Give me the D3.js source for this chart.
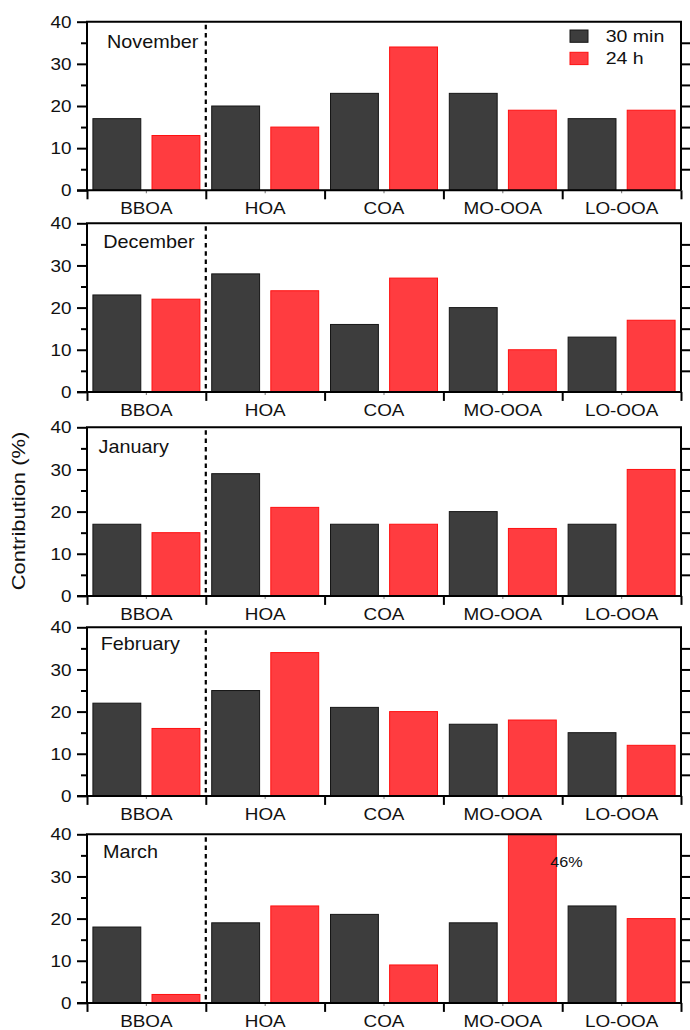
<!DOCTYPE html>
<html>
<head>
<meta charset="utf-8">
<script src="https://cdn.jsdelivr.net/npm/d3@7"></script>
<style>
  html, body { margin: 0; padding: 0; background: #fff; }
  svg { display: block; font-family: "Liberation Sans", Arial, sans-serif; }
</style>
</head>
<body>
<svg id="chart" width="690" height="1030"></svg>
<script>
// ---------------- data ----------------
const months = ["November", "December", "January", "February", "March"];
const categories = ["BBOA", "HOA", "COA", "MO-OOA", "LO-OOA"];
const seriesNames = ["30 min", "24 h"];
// contributions (%) per month, in category order
const min30 = [
  [17, 20, 23, 23, 17],
  [23, 28, 16, 20, 13],
  [17, 29, 17, 20, 17],
  [22, 25, 21, 17, 15],
  [18, 19, 21, 19, 23]
];
const h24 = [
  [13, 15, 34, 19, 19],
  [22, 24, 27, 10, 17],
  [15, 21, 17, 16, 30],
  [16, 34, 20, 18, 12],
  [2, 23, 9, 46, 20]
];
const yTicks = [0, 10, 20, 30, 40];
const yMinorTicks = [5, 15, 25, 35];
const yTitle = "Contribution (%)";
const clippedNote = "46%";   // March, MO-OOA, 24 h (bar exceeds the axis)

// ---------------- layout ----------------
const W = 690, H = 1030;
const left = 87, right = 681;
const panelTops = [21.7, 223.3, 427.3, 627.3, 834.3];
const panelH = 168.6;
const monthLabelPos = [[107, 26.6], [103.3, 25], [98.5, 25.5], [100.7, 22.7], [103, 23.3]];
const colors = { "30 min": "#3d3d3d", "24 h": "#ff3c40" };
const strokes = { "30 min": "#161616", "24 h": "#ff1010" };
const SX = 1.18; // horizontal glyph stretch to match the reference font

const svg = d3.select("#chart");
const data = [min30, h24];

const x0 = d3.scaleBand().domain(categories).range([left, right]).paddingInner(0).paddingOuter(0);
const x1 = d3.scaleBand().domain(seriesNames).range([0, x0.bandwidth()]).paddingInner(0.19).paddingOuter(0.1);
const xEdges = d3.scaleLinear().domain([0, categories.length]).range([left, right]);

function stext(g, x, y, str, size, sx, anchor) {
  return g.append("text")
    .attr("transform", `translate(${x},${y}) scale(${sx},1)`)
    .attr("text-anchor", anchor || "start")
    .style("font-size", size + "px")
    .attr("fill", "#111")
    .text(str);
}

months.forEach((m, mi) => {
  const top = panelTops[mi];
  const bottom = top + panelH;
  const y = d3.scaleLinear().domain([0, 40]).range([bottom, top]).clamp(true);
  const g = svg.append("g");

  // bars
  seriesNames.forEach((s, si) => {
    g.selectAll(null)
      .data(categories.map((c, ci) => ({ c, v: data[si][mi][ci] })))
      .enter().append("rect")
      .attr("x", d => x0(d.c) + x1(s))
      .attr("y", d => y(d.v))
      .attr("width", x1.bandwidth())
      .attr("height", d => y(0) - y(d.v))
      .attr("fill", colors[s])
      .attr("stroke", strokes[s])
      .attr("stroke-width", 1);
  });

  // dashed separator after BBOA
  g.append("line")
    .attr("x1", xEdges(1)).attr("x2", xEdges(1))
    .attr("y1", top + 3).attr("y2", bottom)
    .attr("stroke", "#000").attr("stroke-width", 2.2)
    .attr("stroke-dasharray", "4.5,3.8");

  // left axis major
  const la = g.append("g").attr("transform", `translate(${left},0)`)
    .call(d3.axisLeft(y).tickValues(yTicks).tickSize(10).tickSizeOuter(0).tickFormat(d3.format("d")));
  la.select(".domain").remove();
  la.selectAll("line").attr("stroke", "#000").attr("stroke-width", 2);
  la.selectAll("text")
    .attr("x", null).attr("dy", null)
    .attr("transform", "translate(-15.5,5.6) scale(" + SX + ",1)")
    .attr("text-anchor", "end")
    .style("font-size", "16px").attr("fill", "#111").style("font-family", "Liberation Sans, Arial, sans-serif");
  // left axis minor
  const lm = g.append("g").attr("transform", `translate(${left},0)`)
    .call(d3.axisLeft(y).tickValues(yMinorTicks).tickSize(6).tickSizeOuter(0).tickFormat(""));
  lm.select(".domain").remove();
  lm.selectAll("line").attr("stroke", "#000").attr("stroke-width", 2);
  // right axis ticks (outward)
  const ra = g.append("g").attr("transform", `translate(${right},0)`)
    .call(d3.axisRight(y).tickValues(yMinorTicks.concat([10, 20, 30])).tickSize(9).tickSizeOuter(0).tickFormat(""));
  ra.select(".domain").remove();
  ra.selectAll("line").attr("stroke", "#000").attr("stroke-width", 2);

  // bottom category-edge ticks
  const ba = g.append("g").attr("transform", `translate(0,${bottom})`)
    .call(d3.axisBottom(xEdges).tickValues(d3.range(categories.length + 1)).tickSize(9).tickSizeOuter(0).tickFormat(""));
  ba.select(".domain").remove();
  ba.selectAll("line").attr("stroke", "#000").attr("stroke-width", 2);
  // small center ticks
  g.selectAll(null).data(categories).enter().append("line")
    .attr("x1", d => x0(d) + x0.bandwidth() / 2).attr("x2", d => x0(d) + x0.bandwidth() / 2)
    .attr("y1", bottom).attr("y2", bottom + 3)
    .attr("stroke", "#888").attr("stroke-width", 1.2);

  // frame
  g.append("path")
    .attr("d", `M${left},${bottom}V${top}H${right}V${bottom}`)
    .attr("fill", "none").attr("stroke", "#000").attr("stroke-width", 2);
  g.append("line")
    .attr("x1", left - 10).attr("x2", right)
    .attr("y1", bottom).attr("y2", bottom)
    .attr("stroke", "#000").attr("stroke-width", 2);

  // category labels
  categories.forEach(c => {
    stext(g, x0(c) + x0.bandwidth() / 2, bottom + 24, c, 16, SX, "middle");
  });

  // month label
  stext(g, monthLabelPos[mi][0], top + monthLabelPos[mi][1], m, 18, 1.1, "start");

  // clipped-bar note
  if (mi === 4) {
    stext(g, x0("MO-OOA") + x1("24 h") + x1.bandwidth() - 6, top + 33, clippedNote, 15, 1.08, "start");
  }
});

// legend
const leg = svg.append("g");
seriesNames.forEach((s, i) => {
  leg.append("rect")
    .attr("x", 570).attr("y", 30 + i * 22.3).attr("width", 18).attr("height", 12.3)
    .attr("fill", colors[s]).attr("stroke", strokes[s]).attr("stroke-width", 1);
  stext(leg, 605.7, 41.7 + i * 22.3, s, 17, 1.15, "start");
});

// y-axis title
svg.append("text")
  .attr("transform", "translate(24.5,511) rotate(-90) scale(1.22,1)")
  .attr("text-anchor", "middle")
  .style("font-size", "18px")
  .attr("fill", "#111")
  .text(yTitle);
</script>
</body>
</html>
